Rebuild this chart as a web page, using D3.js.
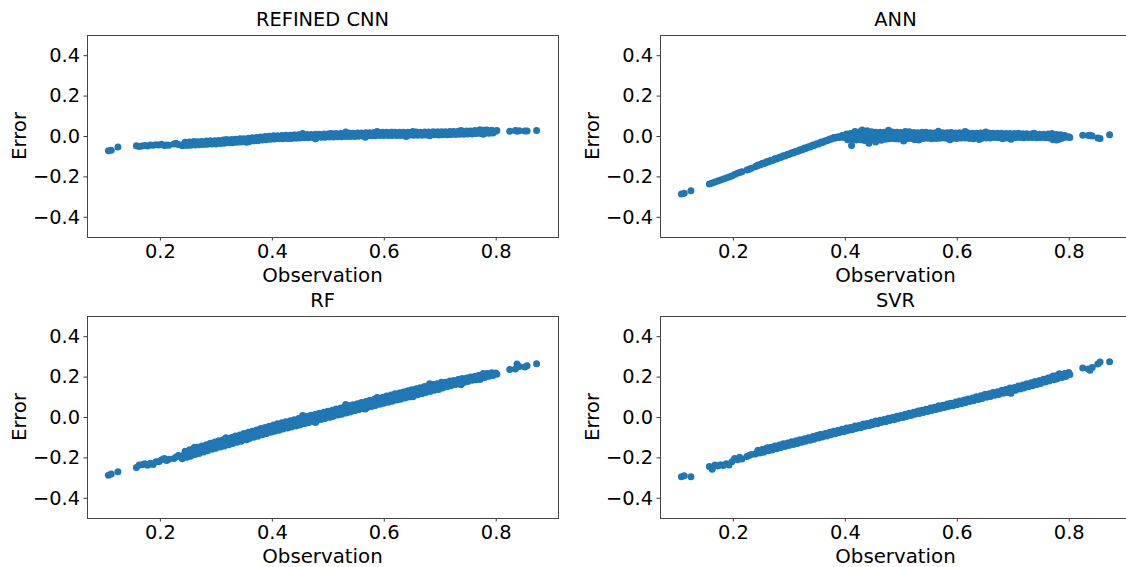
<!DOCTYPE html>
<html>
<head>
<meta charset="utf-8">
<script src="https://cdn.jsdelivr.net/npm/d3@7"></script>
<style>
  body { margin: 0; background: #fff; }
  svg { display: block; font-family: "DejaVu Sans", sans-serif; }
</style>
</head>
<body>
<svg id="chart" width="1126" height="567"></svg>
<script>
// observed values (shared by all four models)
const observation = [
  // sparse low end
  0.108, 0.113, 0.125, 0.158, 0.163, 0.168, 0.173, 0.178, 0.183, 0.188,
  0.193, 0.198, 0.203, 0.208, 0.212, 0.216, 0.225, 0.229, 0.233,
  // dense part, first batch
  0.240, 0.245, 0.250, 0.255, 0.260, 0.265, 0.270, 0.275, 0.280, 0.285,
  0.290, 0.295, 0.300, 0.305, 0.310, 0.315, 0.320, 0.325, 0.330, 0.335,
  0.340, 0.345, 0.350, 0.355, 0.360, 0.365, 0.370, 0.375, 0.380, 0.385,
  0.390, 0.395, 0.400, 0.405, 0.410, 0.415, 0.420, 0.425, 0.430, 0.435,
  0.440, 0.445, 0.450, 0.455, 0.460, 0.465, 0.470, 0.475, 0.480, 0.485,
  0.490, 0.495, 0.500, 0.505, 0.510, 0.515, 0.520, 0.525, 0.530, 0.535,
  0.540, 0.545, 0.550, 0.555, 0.560, 0.565, 0.570, 0.575, 0.580, 0.585,
  0.590, 0.595, 0.600, 0.605, 0.610, 0.615, 0.620, 0.625, 0.630, 0.635,
  0.640, 0.645, 0.650, 0.655, 0.660, 0.665, 0.670, 0.675, 0.680, 0.685,
  0.690, 0.695, 0.700, 0.705, 0.710, 0.715, 0.720, 0.725, 0.730, 0.735,
  0.740, 0.745, 0.750, 0.755, 0.760, 0.765, 0.770, 0.775, 0.780, 0.785,
  0.790, 0.795,
  // dense part, second batch
  0.243, 0.248, 0.253, 0.258, 0.263, 0.268, 0.273, 0.278, 0.283, 0.288,
  0.293, 0.298, 0.303, 0.308, 0.313, 0.318, 0.323, 0.328, 0.333, 0.338,
  0.343, 0.348, 0.353, 0.358, 0.363, 0.368, 0.373, 0.378, 0.383, 0.388,
  0.393, 0.398, 0.403, 0.408, 0.413, 0.418, 0.423, 0.428, 0.433, 0.438,
  0.443, 0.448, 0.453, 0.458, 0.463, 0.468, 0.473, 0.478, 0.483, 0.488,
  0.493, 0.498, 0.503, 0.508, 0.513, 0.518, 0.523, 0.528, 0.533, 0.538,
  0.543, 0.548, 0.553, 0.558, 0.563, 0.568, 0.573, 0.578, 0.583, 0.588,
  0.593, 0.598, 0.603, 0.608, 0.613, 0.618, 0.623, 0.628, 0.633, 0.638,
  0.643, 0.648, 0.653, 0.658, 0.663, 0.668, 0.673, 0.678, 0.683, 0.688,
  0.693, 0.698, 0.703, 0.708, 0.713, 0.718, 0.723, 0.728, 0.733, 0.738,
  0.743, 0.748, 0.753, 0.758, 0.763, 0.768, 0.773, 0.778, 0.783, 0.788,
  0.793,
  // sparse high end
  0.800, 0.802, 0.825, 0.835, 0.838, 0.842, 0.852, 0.856, 0.873,
  // stray points
  0.412, 0.443, 0.431, 0.505, 0.615, 0.640, 0.697,
  0.262, 0.318, 0.355, 0.455, 0.478, 0.532, 0.567, 0.588, 0.652, 0.682,
  0.738, 0.772, 0.778, 0.783
];

const errorCNN = [
  -0.073, -0.071, -0.055, -0.048, -0.052, -0.050, -0.047, -0.049, -0.044, -0.046,
  -0.043, -0.045, -0.041, -0.047, -0.044, -0.046, -0.040, -0.036, -0.042,

  -0.048, -0.031, -0.038, -0.046, -0.029, -0.036, -0.043, -0.027, -0.035, -0.041,
  -0.024, -0.031, -0.039, -0.022, -0.029, -0.036, -0.019, -0.027, -0.033, -0.016,
  -0.023, -0.030, -0.014, -0.020, -0.027, -0.009, -0.016, -0.023, -0.005, -0.012,
  -0.019, -0.001, -0.008, -0.015, 0.001, -0.006, -0.013, 0.004, -0.004, -0.012,
  0.005, -0.003, -0.010, 0.006, -0.001, -0.009, 0.008, 0.000, -0.007, 0.009,
  0.002, -0.006, 0.010, 0.003, -0.005, 0.012, 0.004, -0.004, 0.013, 0.005,
  -0.002, 0.014, 0.006, -0.001, 0.015, 0.008, 0.000, 0.016, 0.009, 0.001,
  0.018, 0.010, 0.002, 0.019, 0.010, 0.003, 0.018, 0.011, 0.003, 0.019,
  0.011, 0.004, 0.018, 0.012, 0.004, 0.019, 0.012, 0.005, 0.020, 0.013,
  0.006, 0.020, 0.013, 0.006, 0.021, 0.014, 0.007, 0.022, 0.015, 0.009,
  0.024, 0.017, 0.010, 0.025, 0.018, 0.012, 0.026, 0.020, 0.014, 0.028,
  0.021, 0.015,

  -0.039, -0.047, -0.030, -0.037, -0.044, -0.028, -0.035, -0.042, -0.025, -0.033,
  -0.040, -0.023, -0.030, -0.037, -0.020, -0.027, -0.034, -0.017, -0.024, -0.031,
  -0.014, -0.022, -0.029, -0.011, -0.018, -0.024, -0.007, -0.014, -0.020, -0.003,
  -0.010, -0.016, 0.001, -0.007, -0.014, 0.003, -0.005, -0.012, 0.004, -0.003,
  -0.011, 0.006, -0.002, -0.009, 0.007, 0.000, -0.008, 0.009, 0.001, -0.006,
  0.010, 0.002, -0.005, 0.011, 0.004, -0.004, 0.012, 0.005, -0.003, 0.014,
  0.006, -0.002, 0.015, 0.007, 0.000, 0.016, 0.008, 0.001, 0.017, 0.010,
  0.002, 0.018, 0.010, 0.002, 0.019, 0.011, 0.003, 0.019, 0.011, 0.003,
  0.019, 0.011, 0.004, 0.020, 0.012, 0.004, 0.020, 0.012, 0.005, 0.021,
  0.013, 0.005, 0.021, 0.014, 0.006, 0.022, 0.015, 0.007, 0.024, 0.016,
  0.009, 0.025, 0.018, 0.010, 0.027, 0.019, 0.012, 0.028, 0.021, 0.013,
  0.029,

  0.023, 0.027, 0.024, 0.027, 0.023, 0.026, 0.025, 0.025, 0.027,
  -0.004, 0.004, -0.010, 0.012, 0.018, -0.002, 0.020,
  -0.028, -0.018, -0.031, 0.012, -0.013, 0.020, -0.006, 0.022, 0.022, 0.001,
  0.027, 0.031, 0.009, 0.030
];

const errorANN = [
  -0.287, -0.283, -0.271, -0.238, -0.233, -0.228, -0.223, -0.218, -0.213, -0.208,
  -0.203, -0.198, -0.190, -0.185, -0.181, -0.177, -0.168, -0.164, -0.160,

  -0.152, -0.143, -0.140, -0.137, -0.128, -0.125, -0.122, -0.113, -0.110, -0.107,
  -0.098, -0.095, -0.092, -0.083, -0.080, -0.077, -0.068, -0.065, -0.062, -0.053,
  -0.050, -0.047, -0.038, -0.035, -0.032, -0.023, -0.020,
  -0.016, -0.008, -0.007, -0.008, 0.002, -0.002,
  -0.018, 0.012, 0.000, -0.020, 0.020, 0.004, -0.022, 0.026, 0.002, -0.016,
  0.019, 0.003, -0.021, 0.018, 0.001, -0.014, 0.020, 0.004, -0.015, 0.017,
  0.002, -0.013, 0.021, 0.003, -0.018, 0.016, 0.001, -0.012, 0.018, 0.002,
  -0.014, 0.015, 0.001, -0.011, 0.016, 0.002, -0.013, 0.017, 0.000, -0.012,
  0.016, 0.002, -0.010, 0.015, 0.001, -0.013, 0.014, 0.000, -0.011, 0.016,
  0.001, -0.010, 0.013, 0.002, -0.009, 0.014, 0.000, -0.010, 0.012, 0.001,
  -0.008, 0.013, 0.000, -0.009, 0.011, 0.001, -0.007, 0.010, -0.001, -0.008,
  0.009, 0.000, -0.010, 0.012, -0.002, -0.014, 0.006, -0.002, -0.006,

  -0.147, -0.144, -0.135, -0.132, -0.129, -0.120, -0.117, -0.114, -0.105, -0.102,
  -0.099, -0.090, -0.087, -0.084, -0.075, -0.072, -0.069, -0.060, -0.057, -0.054,
  -0.045, -0.042, -0.039, -0.030, -0.027, -0.024, -0.015, -0.012, -0.010, -0.004,
  -0.004, -0.008, 0.010, 0.002, -0.016, 0.022, 0.001, -0.019, 0.024, 0.003,
  -0.017, 0.021, 0.002, -0.015, 0.019, 0.004, -0.016, 0.020, 0.001, -0.013,
  0.018, 0.003, -0.014, 0.022, 0.002, -0.012, 0.017, 0.004, -0.013, 0.019,
  0.001, -0.011, 0.016, 0.003, -0.012, 0.017, 0.001, -0.010, 0.016, 0.002,
  -0.011, 0.015, 0.001, -0.010, 0.016, 0.002, -0.012, 0.014, 0.001, -0.009,
  0.015, 0.000, -0.010, 0.013, 0.002, -0.008, 0.014, 0.001, -0.009, 0.012,
  0.000, -0.008, 0.012, 0.001, -0.007, 0.011, 0.000, -0.008, 0.010, 0.000,
  -0.009, 0.009, -0.001, -0.009, 0.010, 0.000, -0.012, 0.008, -0.004, -0.011,
  0.003,

  -0.004, -0.007, 0.004, 0.002, 0.004, 0.000, -0.010, -0.012, 0.006,
  -0.047, -0.036, 0.030, -0.025, 0.022, -0.017, -0.016,
  -0.128, -0.072, -0.035, -0.030, 0.028, -0.020, 0.024, -0.018, 0.020, -0.013,
  0.014, -0.018, -0.020, -0.016
];

const errorRF = [
  -0.288, -0.282, -0.271, -0.250, -0.238, -0.236, -0.231, -0.239, -0.229, -0.235,
  -0.221, -0.222, -0.212, -0.205, -0.215, -0.209, -0.205, -0.198, -0.190,

  -0.207, -0.170, -0.183, -0.194, -0.156, -0.168, -0.181, -0.143, -0.157, -0.167,
  -0.130, -0.144, -0.155, -0.118, -0.130, -0.144, -0.107, -0.120, -0.131, -0.094,
  -0.106, -0.120, -0.082, -0.096, -0.106, -0.071, -0.083, -0.095, -0.057, -0.069,
  -0.083, -0.046, -0.058, -0.071, -0.034, -0.048, -0.060, -0.023, -0.036, -0.050,
  -0.013, -0.027, -0.039, -0.003, -0.015, -0.029, 0.009, -0.006, -0.018, 0.019,
  0.005, -0.007, 0.029, 0.017, 0.004, 0.040, 0.026, 0.014, 0.051, 0.037,
  0.025, 0.061, 0.049, 0.036, 0.072, 0.058, 0.046, 0.083, 0.069, 0.057,
  0.093, 0.081, 0.068, 0.104, 0.090, 0.078, 0.115, 0.102, 0.088, 0.124,
  0.111, 0.099, 0.135, 0.123, 0.110, 0.145, 0.132, 0.121, 0.155, 0.144,
  0.132, 0.165, 0.154, 0.143, 0.172, 0.163, 0.155, 0.181, 0.172, 0.165,
  0.190, 0.181, 0.176, 0.198, 0.190, 0.185, 0.207, 0.200, 0.196, 0.215,
  0.210, 0.206,

  -0.187, -0.199, -0.162, -0.174, -0.186, -0.150, -0.161, -0.173, -0.137, -0.149,
  -0.160, -0.124, -0.137, -0.149, -0.113, -0.125, -0.137, -0.101, -0.113, -0.125,
  -0.089, -0.101, -0.113, -0.076, -0.088, -0.100, -0.064, -0.076, -0.088, -0.052,
  -0.064, -0.076, -0.040, -0.052, -0.065, -0.029, -0.042, -0.054, -0.019, -0.031,
  -0.044, -0.008, -0.021, -0.033, 0.002, -0.010, -0.022, 0.013, 0.001, -0.012,
  0.024, 0.011, -0.001, 0.034, 0.022, 0.010, 0.045, 0.033, 0.020, 0.056,
  0.043, 0.031, 0.066, 0.054, 0.041, 0.077, 0.065, 0.052, 0.088, 0.075,
  0.063, 0.098, 0.086, 0.073, 0.109, 0.096, 0.084, 0.119, 0.107, 0.094,
  0.130, 0.117, 0.105, 0.140, 0.128, 0.115, 0.151, 0.138, 0.126, 0.161,
  0.149, 0.136, 0.172, 0.159, 0.150, 0.178, 0.169, 0.161, 0.186, 0.178,
  0.171, 0.193, 0.188, 0.182, 0.202, 0.197, 0.192, 0.211, 0.206, 0.202,
  0.219,

  0.218, 0.212, 0.235, 0.238, 0.262, 0.250, 0.247, 0.254, 0.263,
  -0.049, -0.020, -0.028, 0.000, 0.093, 0.125, 0.140,
  -0.150, -0.103, -0.113, 0.008, -0.027, 0.062, 0.040, 0.097, 0.100, 0.165,
  0.160, 0.186, 0.215, 0.200
];

const errorSVR = [
  -0.296, -0.291, -0.296, -0.245, -0.259, -0.238, -0.243, -0.236, -0.240, -0.232,
  -0.238, -0.221, -0.205, -0.212, -0.199, -0.208, -0.195, -0.190, -0.186,

  -0.183, -0.165, -0.170, -0.174, -0.155, -0.159, -0.163, -0.144, -0.149, -0.152,
  -0.133, -0.138, -0.141, -0.123, -0.127, -0.131, -0.113, -0.117, -0.120, -0.103,
  -0.106, -0.110, -0.092, -0.096, -0.099, -0.082, -0.085, -0.088, -0.071, -0.075,
  -0.077, -0.061, -0.064, -0.067, -0.052, -0.054, -0.057, -0.042, -0.044, -0.047,
  -0.032, -0.035, -0.037, -0.022, -0.025, -0.027, -0.012, -0.015, -0.017, -0.002,
  -0.005, -0.007, 0.008, 0.005, 0.003, 0.018, 0.015, 0.013, 0.028, 0.025,
  0.022, 0.038, 0.035, 0.032, 0.048, 0.045, 0.042, 0.058, 0.055, 0.052,
  0.068, 0.065, 0.061, 0.079, 0.075, 0.071, 0.089, 0.085, 0.081, 0.100,
  0.096, 0.091, 0.111, 0.106, 0.101, 0.121, 0.116, 0.112, 0.131, 0.127,
  0.121, 0.143, 0.136, 0.132, 0.154, 0.148, 0.143, 0.165, 0.159, 0.155,
  0.176, 0.171, 0.166, 0.187, 0.183, 0.178, 0.198, 0.194, 0.190, 0.210,
  0.205, 0.201,

  -0.174, -0.178, -0.160, -0.164, -0.167, -0.150, -0.153, -0.157, -0.139, -0.143,
  -0.146, -0.129, -0.132, -0.136, -0.118, -0.122, -0.125, -0.108, -0.111, -0.115,
  -0.097, -0.101, -0.104, -0.087, -0.090, -0.094, -0.076, -0.080, -0.083, -0.066,
  -0.069, -0.073, -0.055, -0.059, -0.063, -0.045, -0.049, -0.053, -0.035, -0.039,
  -0.043, -0.026, -0.029, -0.033, -0.016, -0.019, -0.023, -0.006, -0.009, -0.013,
  0.004, 0.001, -0.003, 0.014, 0.011, 0.007, 0.024, 0.021, 0.017, 0.034,
  0.030, 0.027, 0.044, 0.040, 0.037, 0.054, 0.050, 0.047, 0.064, 0.060,
  0.056, 0.074, 0.070, 0.066, 0.084, 0.080, 0.077, 0.094, 0.091, 0.087,
  0.105, 0.101, 0.098, 0.115, 0.111, 0.108, 0.125, 0.122, 0.118, 0.136,
  0.132, 0.129, 0.146, 0.143, 0.139, 0.158, 0.154, 0.150, 0.170, 0.166,
  0.161, 0.181, 0.177, 0.173, 0.193, 0.188, 0.184, 0.204, 0.200, 0.196,
  0.215,

  0.220, 0.210, 0.243, 0.238, 0.232, 0.245, 0.262, 0.272, 0.274,
  -0.056, -0.036, -0.040, 0.000, 0.079, 0.092, 0.118,
  -0.152, -0.117, -0.088, -0.020, -0.008, 0.030, 0.055, 0.066, 0.112, 0.133,
  0.160, 0.203, 0.188, 0.214
];

const xTicks = [0.2, 0.4, 0.6, 0.8];
const yTicks = [-0.4, -0.2, 0.0, 0.2, 0.4];

const panels = [
  { title: 'REFINED CNN', errors: errorCNN, left: 87, top: 35 },
  { title: 'ANN', errors: errorANN, left: 660, top: 35 },
  { title: 'RF', errors: errorRF, left: 87, top: 316 },
  { title: 'SVR', errors: errorSVR, left: 660, top: 316 }
];

const boxW = 471,
  boxH = 202,
  fontSize = 19.4,
  color = '#1f77b4';

// matplotlib-like autoscale: 5% margin on each side
let [xmin, xmax] = d3.extent(observation),
  pad = (xmax - xmin) * 0.05;

let x = d3.scaleLinear().domain([xmin - pad, xmax + pad]).range([0, boxW]),
  y = d3.scaleLinear().domain([-0.5, 0.5]).range([boxH, 0]);

let svg = d3.select('#chart');
svg.append('rect').attr('width', 1126).attr('height', 567).attr('fill', '#fff');

function drawPanel(p) {
  let g = svg.append('g').attr('transform', `translate(${p.left},${p.top})`);

  g.append('g')
    .selectAll('circle')
    .data(observation.map((o, i) => [o, p.errors[i]]))
    .enter()
    .append('circle')
    .attr('cx', d => x(d[0]))
    .attr('cy', d => y(d[1]))
    .attr('r', 3.5)
    .attr('fill', color);

  let xAxis = g.append('g')
    .attr('transform', `translate(0,${boxH})`)
    .call(d3.axisBottom(x).tickValues(xTicks).tickFormat(d3.format('.1f'))
      .tickSize(3.5).tickPadding(3.5));
  let yAxis = g.append('g')
    .call(d3.axisLeft(y).tickValues(yTicks).tickFormat(d3.format('.1f'))
      .tickSize(3.5).tickPadding(3.5));

  [xAxis, yAxis].forEach(a => {
    a.select('.domain').remove();
    a.selectAll('line').attr('stroke', '#222').attr('stroke-width', 0.9);
    a.selectAll('text')
      .attr('font-size', fontSize)
      .attr('font-family', '"DejaVu Sans", sans-serif')
      .attr('fill', '#000');
  });

  g.append('rect')
    .attr('x', 0.5)
    .attr('y', 0.5)
    .attr('width', boxW)
    .attr('height', boxH)
    .attr('fill', 'none')
    .attr('stroke', '#444')
    .attr('stroke-width', 1);

  g.append('text')
    .attr('x', boxW / 2)
    .attr('y', -9)
    .attr('text-anchor', 'middle')
    .attr('font-size', fontSize)
    .text(p.title);

  g.append('text')
    .attr('x', boxW / 2)
    .attr('y', boxH + 45)
    .attr('text-anchor', 'middle')
    .attr('font-size', fontSize + 0.4)
    .text('Observation');

  g.append('text')
    .attr('transform', `translate(-61,${boxH / 2}) rotate(-90)`)
    .attr('text-anchor', 'middle')
    .attr('font-size', fontSize + 0.4)
    .text('Error');
}

panels.forEach(drawPanel);
</script>
</body>
</html>
